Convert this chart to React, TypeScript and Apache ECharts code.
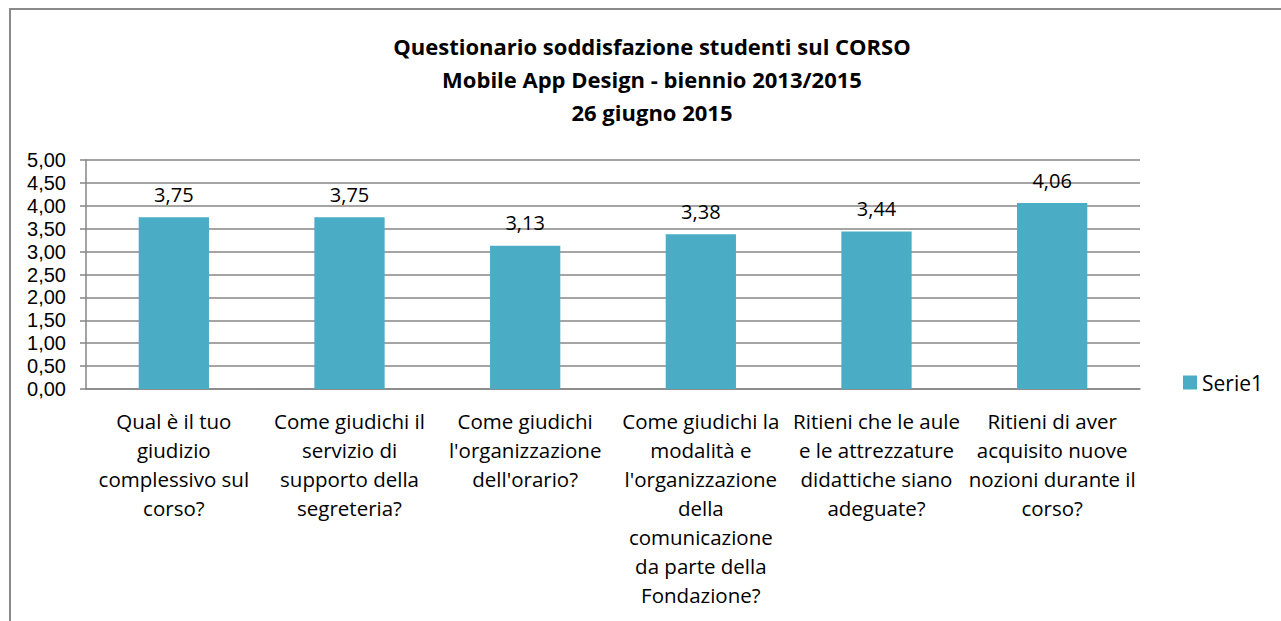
import React, { useEffect, useRef } from "react";
import * as echarts from "echarts";

const titleLines = [
  "Questionario soddisfazione studenti sul CORSO",
  "Mobile App Design - biennio 2013/2015",
  "26 giugno 2015",
];
const categories = [
  "Qual è il tuo\ngiudizio\ncomplessivo sul\ncorso?",
  "Come giudichi il\nservizio di\nsupporto della\nsegreteria?",
  "Come giudichi\nl'organizzazione\ndell'orario?",
  "Come giudichi la\nmodalità e\nl'organizzazione\ndella\ncomunicazione\nda parte della\nFondazione?",
  "Ritieni che le aule\ne le attrezzature\ndidattiche siano\nadeguate?",
  "Ritieni di aver\nacquisito nuove\nnozioni durante il\ncorso?",
];
const values = [3.75, 3.75, 3.13, 3.38, 3.44, 4.06];
const seriesName = "Serie1";

const FONT = "'Open Sans', sans-serif";
const YFONT = "'Liberation Sans', Arial, sans-serif";
const fmt = (v: number) => v.toFixed(2).replace(".", ",");

export default function App() {
  const ref = useRef<HTMLDivElement>(null);
  useEffect(() => {
    if (!ref.current) return;
    const chart = echarts.init(ref.current, null, { renderer: "svg" });
    chart.setOption({
      animation: false,
      backgroundColor: "#ffffff",
      textStyle: { fontFamily: FONT },
      title: {
        text: titleLines.join("\n"),
        left: 647,
        top: 24,
        textAlign: "center",
        textStyle: {
          fontFamily: FONT,
          fontSize: 22,
          fontWeight: "bold",
          color: "#000",
          lineHeight: 33,
        },
      },
      legend: {
        left: 1178,
        top: 367,
        icon: "rect",
        itemWidth: 14,
        itemHeight: 14,
        itemGap: 6,
        textStyle: { fontFamily: FONT, fontSize: 21, color: "#000" },
        data: [seriesName],
      },
      grid: { left: 86, top: 160, width: 1054, height: 229, containLabel: false },
      xAxis: {
        type: "category",
        data: categories,
        axisLine: { lineStyle: { color: "#868686", width: 1.5 } },
        axisTick: { alignWithLabel: false, length: 6, lineStyle: { color: "#868686", width: 1.5 } },
        axisLabel: {
          interval: 0,
          fontFamily: FONT,
          fontSize: 20.5,
          lineHeight: 29,
          color: "#000",
          margin: 17,
          align: "center",
        },
      },
      yAxis: {
        type: "value",
        min: 0,
        max: 5,
        interval: 0.5,
        axisLine: { show: true, lineStyle: { color: "#868686", width: 1.5 } },
        axisTick: { show: true, length: 6, lineStyle: { color: "#868686", width: 1.5 } },
        splitLine: { lineStyle: { color: "#868686", width: 1.5 } },
        axisLabel: {
          fontFamily: YFONT,
          fontSize: 20,
          lineHeight: 22,
          color: "#000",
          margin: 20,
          formatter: (v: number) => fmt(v),
        },
      },
      series: [
        {
          name: seriesName,
          type: "bar",
          data: values,
          barWidth: "40%",
          itemStyle: { color: "#4BACC6" },
          label: {
            show: true,
            position: "top",
            distance: 13,
            fontFamily: FONT,
            fontSize: 20,
            color: "#000",
            formatter: (p: any) => fmt(p.value),
          },
        },
      ],
      graphic: [
        {
          type: "rect",
          shape: { x: 10, y: 9, width: 1400, height: 800 },
          style: { fill: "none", stroke: "#8a8a8a", lineWidth: 2 },
          silent: true,
          z: -1,
        },
      ],
    });
    return () => chart.dispose();
  }, []);
  return (
    <div
      ref={ref}
      style={{ position: "fixed", left: 0, top: 0, width: 1281, height: 621 }}
    />
  );
}
